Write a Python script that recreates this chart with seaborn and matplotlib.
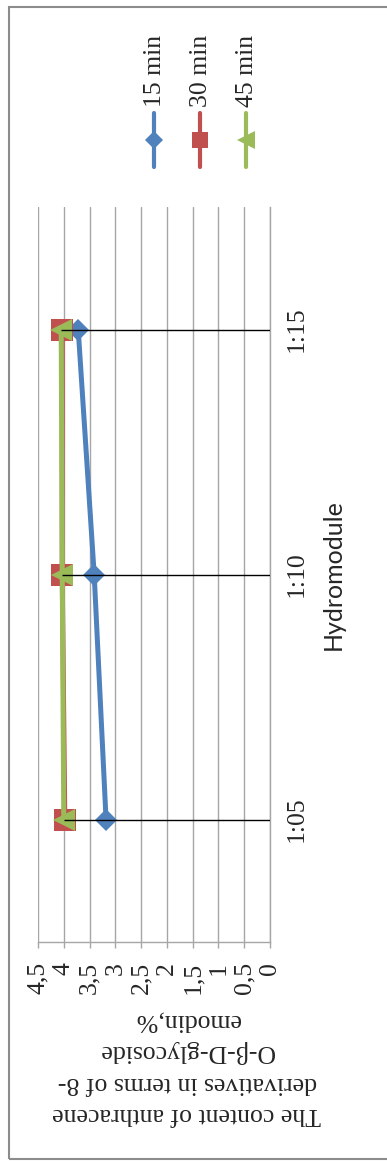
import matplotlib
matplotlib.use("Agg")
import matplotlib.pyplot as plt
import pandas as pd
import seaborn as sns
from matplotlib.lines import Line2D
from matplotlib.patches import Rectangle

# Data
hydromodule = ["1:05", "1:10", "1:15"]
series_names = ["15 min", "30 min", "45 min"]
content_15 = [3.18, 3.41, 3.72]
content_30 = [3.98, 4.03, 4.03]
content_45 = [4.00, 4.03, 4.05]
value_ticks = [0, 0.5, 1, 1.5, 2, 2.5, 3, 3.5, 4, 4.5]
value_tick_labels = ["0", "0,5", "1", "1,5", "2", "2,5", "3", "3,5", "4", "4,5"]

colors = ["#4F81BD", "#C0504D", "#9BBB59"]
markers = ["D", "s", "<"]
marker_sizes = [11.2, 15.6, 16.0]
legend_marker_sizes = [8.7, 12.2, 13.0]

positions = [0.5, 1.5, 2.5]
rows = []
for name, vals in zip(series_names, [content_15, content_30, content_45]):
    for cat, pos, v in zip(hydromodule, positions, vals):
        rows.append({"series": name, "hydromodule": cat, "pos": pos, "value": v})
df = pd.DataFrame(rows)

sns.set_theme(style="white")
plt.rcParams["font.family"] = ["Liberation Serif", "DejaVu Serif"]

W, H = 387, 1161
fig = plt.figure(figsize=(W / 100, H / 100), dpi=100)
fig.patch.set_facecolor("white")

# plot area in pixels: x 38..270, y 207..942 (from top)
ax = fig.add_axes([38 / W, (H - 942) / H, 232 / W, 735 / H])

grid_color = "#a6a6a6"
for name, col, mk, ms in zip(series_names, colors, markers, marker_sizes):
    sub = df[df["series"] == name]
    sns.lineplot(data=sub, x="value", y="pos", orient="y", sort=True,
                 color=col, marker=mk, markersize=ms, markeredgewidth=0,
                 linewidth=3.6, errorbar=None, legend=False, ax=ax, zorder=3)

# drop lines from the highest point of each category to the axis
top_vals = df.groupby("pos")["value"].max()
ax.hlines(top_vals.index, 0, top_vals.values, color="black", linewidth=1.0, zorder=5)

ax.set_xlim(4.5, 0)
ax.set_ylim(0, 3)
ax.set_xticks(value_ticks)
ax.set_xticklabels(value_tick_labels, rotation=90, ha="center", va="top", fontsize=18.5)
ax.tick_params(axis="x", direction="out", length=4.3, width=1.0, color=grid_color,
               pad=10, bottom=True)
ax.grid(axis="x", color=grid_color, linewidth=1.0)
ax.grid(axis="y", visible=False)

ax.yaxis.tick_right()
ax.set_yticks(positions)
ax.set_yticklabels(hydromodule, rotation=90, va="center", ha="left", fontsize=18.5)
ax.tick_params(axis="y", length=0, pad=11.5)
ax.yaxis.set_label_position("right")
ax.set_ylabel("Hydromodule", rotation=90, fontsize=18, family=["Lato", "DejaVu Sans"],
              labelpad=10)

for side in ["top", "left"]:
    ax.spines[side].set_visible(False)
for side in ["bottom", "right"]:
    ax.spines[side].set_color(grid_color)
    ax.spines[side].set_linewidth(1.0)

ax.set_xlabel("The content of anthracene\nderivatives in terms of 8-\nO-β-D-glycoside\nemodin,%",
              rotation=180, ha="center", va="center", multialignment="center",
              linespacing=1.5, fontsize=18.5)
ax.xaxis.set_label_coords((187 - 38) / 232, (94 - 219) / 735)

# legend entries, stacked left to right
for i, (name, col, mk, ms) in enumerate(zip(series_names, colors, markers, legend_marker_sizes)):
    xc = (154 + 46 * i) / W
    fig.add_artist(Line2D([xc, xc], [1 - 113 / H, 1 - 167 / H], color=col, linewidth=3.0,
                          solid_capstyle="round", transform=fig.transFigure))
    fig.add_artist(Line2D([xc], [1 - 140 / H], color=col, marker=mk, markersize=ms,
                          markeredgewidth=0, linestyle="none", transform=fig.transFigure))
    fig.text(xc + 1 / W, 1 - 107 / H, name, rotation=90, ha="center", va="bottom",
             fontsize=18.5)

# chart border
fig.add_artist(Rectangle((9 / W, 1 - 1159 / H), 1.2, (1159 - 7) / H, transform=fig.transFigure,
                         facecolor="none", edgecolor="#8c8c8c", linewidth=1.5, clip_on=False))

fig.savefig("out.png", dpi=100)
